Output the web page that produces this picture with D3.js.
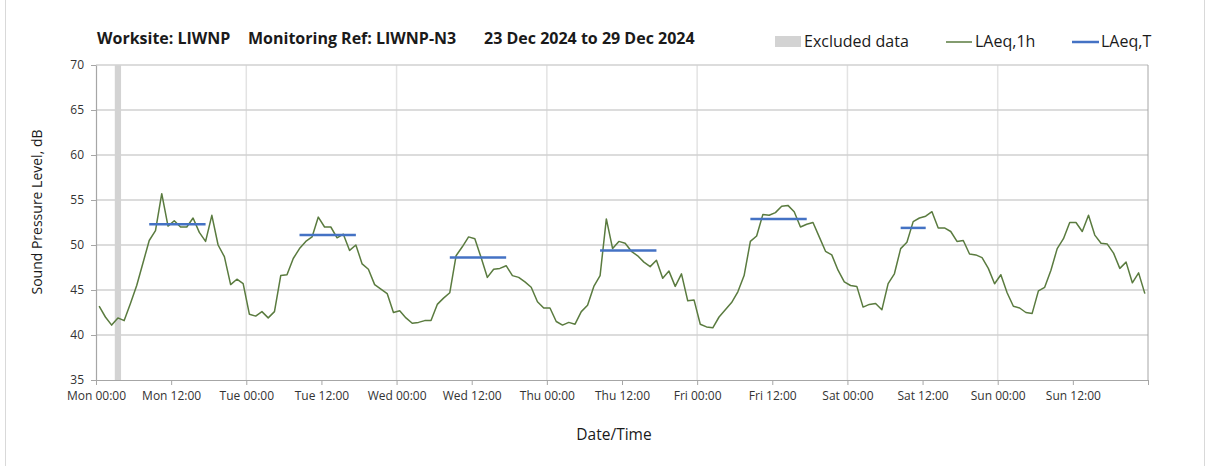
<!DOCTYPE html>
<html>
<head>
<meta charset="utf-8">
<script src="https://cdn.jsdelivr.net/npm/d3@7"></script>
<style>
  body { margin: 0; background: #fff; }
  text { font-family: "Open Sans", Lato, sans-serif; }
</style>
</head>
<body>
<div id="chart"></div>
<script>
// hourly LAeq,1h values, Mon 23 Dec 2024 00:00 onwards (one per hour)
var hourlyLevels = [
  43.2, 42.0, 41.1, 41.9, 41.6, 43.5, 45.5, 48.0, 50.5, 51.6, 55.7, 52.1,
  52.7, 52.0, 52.0, 53.0, 51.4, 50.4, 53.3, 50.0, 48.7, 45.6, 46.2, 45.7,
  42.3, 42.1, 42.6, 41.9, 42.6, 46.6, 46.7, 48.5, 49.6, 50.4, 50.9, 53.1,
  52.0, 52.0, 50.8, 51.2, 49.4, 50.0, 47.9, 47.3, 45.6, 45.1, 44.6, 42.5,
  42.7, 41.9, 41.3, 41.4, 41.6, 41.6, 43.4, 44.1, 44.7, 48.8, 49.8, 50.9,
  50.7, 48.6, 46.4, 47.3, 47.4, 47.7, 46.6, 46.4, 45.9, 45.3, 43.7, 43.0,
  43.0, 41.5, 41.1, 41.4, 41.2, 42.6, 43.3, 45.4, 46.6, 52.9, 49.6, 50.4,
  50.2, 49.3, 48.8, 48.1, 47.6, 48.3, 46.3, 47.1, 45.4, 46.8, 43.8, 43.9,
  41.2, 40.9, 40.8, 42.0, 42.8, 43.6, 44.8, 46.6, 50.4, 51.0, 53.4, 53.3,
  53.6, 54.3, 54.4, 53.7, 52.0, 52.3, 52.5, 50.9, 49.3, 48.9, 47.2, 45.9,
  45.5, 45.4, 43.1, 43.4, 43.5, 42.8, 45.7, 46.8, 49.6, 50.3, 52.6, 53.0,
  53.2, 53.7, 51.9, 51.9, 51.5, 50.4, 50.5, 49.0, 48.9, 48.6, 47.4, 45.7,
  46.7, 44.7, 43.2, 43.0, 42.5, 42.4, 44.9, 45.3, 47.2, 49.6, 50.7, 52.5,
  52.5, 51.5, 53.3, 51.1, 50.2, 50.1, 49.1, 47.4, 48.1, 45.8, 46.9, 44.6
];

// excluded hours (hour index from start)
var excludedHours = [3];

// LAeq,T periods: day index, first hour, last hour, level
var periodDays = [0, 1, 2, 3, 4, 5];
var periodStartHour = [8, 8, 8, 8, 8, 8];
var periodEndHour = [17, 17, 17, 17, 17, 12];
var periodLevels = [52.3, 51.1, 48.6, 49.4, 52.9, 51.9];

var yTicks = [35, 40, 45, 50, 55, 60, 65, 70];
var titleParts = ["Worksite: LIWNP", "Monitoring Ref: LIWNP-N3", "23 Dec 2024 to 29 Dec 2024"];

var svgWidth = 1208;
var svgHeight = 466;
var margin = { top: 65, right: 60, bottom: 86, left: 96 };
var width = svgWidth - margin.left - margin.right;
var height = svgHeight - margin.top - margin.bottom;

var start = new Date(2024, 11, 23, 0, 0);
var end = d3.timeDay.offset(start, 7);
var hourTime = function(h) { return new Date(start.getTime() + h * 3600000); };

var svg = d3.select("#chart").append("svg")
  .attr("width", svgWidth)
  .attr("height", svgHeight);

// outer frame
svg.append("rect")
  .attr("x", 5.5).attr("y", -10)
  .attr("width", 1199).attr("height", svgHeight + 20)
  .attr("fill", "none")
  .attr("stroke", "#d9d9d9");

var g = svg.append("g")
  .attr("transform", `translate(${margin.left}, ${margin.top})`);

var xScale = d3.scaleTime().domain([start, end]).range([0, width]);
var yScale = d3.scaleLinear().domain([35, 70]).range([height, 0]);

// vertical day gridlines
g.append("g").selectAll("line")
  .data(d3.timeDay.range(d3.timeDay.offset(start, 1), end))
  .enter().append("line")
  .attr("x1", d => xScale(d)).attr("x2", d => xScale(d))
  .attr("y1", 0).attr("y2", height)
  .attr("stroke", "#e3e3e3").attr("stroke-width", 1.5);

// horizontal gridlines
g.append("g").selectAll("line")
  .data(yTicks.slice(1))
  .enter().append("line")
  .attr("x1", 0).attr("x2", width)
  .attr("y1", d => yScale(d)).attr("y2", d => yScale(d))
  .attr("stroke", "#d0d0d0").attr("stroke-width", 1.5);

// excluded data
g.append("g").selectAll("rect")
  .data(excludedHours)
  .enter().append("rect")
  .attr("x", d => xScale(hourTime(d)))
  .attr("width", d => xScale(hourTime(d + 1)) - xScale(hourTime(d)))
  .attr("y", 0).attr("height", height)
  .attr("fill", "#d3d3d3");

// right border
g.append("line")
  .attr("x1", width).attr("x2", width)
  .attr("y1", 0).attr("y2", height)
  .attr("stroke", "#a6a6a6");

// axes
var xTickValues = d3.range(0, 15).map(i => d3.timeHour.offset(start, i * 12));
var bottomAxis = d3.axisBottom(xScale)
  .tickValues(xTickValues)
  .tickSize(5)
  .tickSizeOuter(0)
  .tickFormat((d, i) => i === 14 ? "" : d3.timeFormat("%a %H:%M")(d));
var leftAxis = d3.axisLeft(yScale)
  .tickValues(yTicks)
  .tickSize(5)
  .tickSizeOuter(0)
  .tickFormat(d3.format("d"));

var xAxisG = g.append("g")
  .attr("transform", `translate(0, ${height})`)
  .call(bottomAxis);
var yAxisG = g.append("g").call(leftAxis);

[xAxisG, yAxisG].forEach(function(ax) {
  ax.select(".domain").attr("stroke", "#a6a6a6").attr("stroke-width", 1.2);
  ax.selectAll(".tick line").attr("stroke", "#a6a6a6");
  ax.selectAll(".tick text")
    .attr("fill", "#333")
    .style("font-size", "12px")
    .style("font-family", "'Open Sans', Lato, sans-serif");
});
xAxisG.selectAll(".tick text").attr("y", 11);
yAxisG.selectAll(".tick text").attr("x", -12);

// LAeq,1h line
var line = d3.line()
  .x((d, i) => xScale(hourTime(i + 0.5)))
  .y(d => yScale(d));

g.append("path")
  .datum(hourlyLevels)
  .attr("d", line)
  .attr("fill", "none")
  .attr("stroke", "#5a7b3f")
  .attr("stroke-width", 1.5)
  .attr("stroke-linejoin", "round");

// LAeq,T lines
g.append("g").selectAll("line")
  .data(periodLevels)
  .enter().append("line")
  .attr("x1", (d, i) => xScale(hourTime(periodDays[i] * 24 + periodStartHour[i] + 0.5)))
  .attr("x2", (d, i) => xScale(hourTime(periodDays[i] * 24 + periodEndHour[i] + 0.5)))
  .attr("y1", d => yScale(d)).attr("y2", d => yScale(d))
  .attr("stroke", "#4472c4")
  .attr("stroke-width", 2.5);

// title
var titleX = [97, 248, 484];
svg.append("g").selectAll("text")
  .data(titleParts)
  .enter().append("text")
  .attr("x", (d, i) => titleX[i])
  .attr("y", 44)
  .style("font-size", "16px")
  .style("font-weight", "bold")
  .attr("fill", "#1a1a1a")
  .text(d => d);

// legend
var legend = svg.append("g");
legend.append("rect")
  .attr("x", 775).attr("y", 36).attr("width", 26).attr("height", 11)
  .attr("fill", "#d3d3d3");
legend.append("text").attr("x", 804).attr("y", 47)
  .style("font-size", "16px").attr("fill", "#1a1a1a").text("Excluded data");
legend.append("line")
  .attr("x1", 946).attr("x2", 972).attr("y1", 42).attr("y2", 42)
  .attr("stroke", "#5a7b3f").attr("stroke-width", 1.5);
legend.append("text").attr("x", 975).attr("y", 47)
  .style("font-size", "16px").attr("fill", "#1a1a1a").text("LAeq,1h");
legend.append("line")
  .attr("x1", 1072).attr("x2", 1099).attr("y1", 42).attr("y2", 42)
  .attr("stroke", "#4472c4").attr("stroke-width", 2.5);
legend.append("text").attr("x", 1101).attr("y", 47)
  .style("font-size", "16px").attr("fill", "#1a1a1a").text("LAeq,T");

// axis titles
svg.append("text")
  .attr("transform", "translate(42, 212) rotate(-90)")
  .attr("text-anchor", "middle")
  .style("font-size", "14px")
  .attr("fill", "#1a1a1a")
  .text("Sound Pressure Level, dB");

svg.append("text")
  .attr("x", 614)
  .attr("y", 440)
  .attr("text-anchor", "middle")
  .style("font-size", "15.5px")
  .attr("fill", "#1a1a1a")
  .text("Date/Time");
</script>
</body>
</html>
